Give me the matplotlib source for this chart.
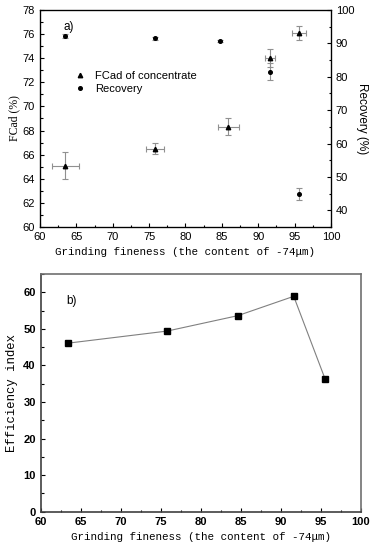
import matplotlib
matplotlib.use("Agg")
import matplotlib.pyplot as plt
from matplotlib.ticker import MultipleLocator

# Data
fcad_x = [63.5, 75.8, 85.9, 91.6, 95.6]
fcad_y = [65.1, 66.5, 68.3, 74.0, 76.1]
fcad_yerr = [1.1, 0.45, 0.7, 0.75, 0.6]
fcad_xerr = [1.8, 1.2, 1.5, 0.7, 0.9]

rec_x = [63.5, 75.8, 84.7, 91.6, 95.6]
rec_y = [92.3, 91.5, 90.8, 81.5, 45.0]
rec_yerr = [0.6, 0.5, 0.3, 2.5, 1.8]

eff_x = [63.45, 75.8, 84.6, 91.6, 95.5]
eff_y = [46.1, 49.4, 53.6, 58.9, 36.4]

xlabel = "Grinding fineness (the content of -74\u03bcm)"

fig = plt.figure(figsize=(3.73, 5.5), dpi=100)

sans = "Liberation Sans"
mono = "Liberation Mono"
serif = "Liberation Serif"

# ---- Top panel ----
ax1 = fig.add_axes([0.1072, 0.5873, 0.7802, 0.3945])
ax1.errorbar(fcad_x, fcad_y, yerr=fcad_yerr, xerr=fcad_xerr, fmt='none',
             ecolor='#909090', elinewidth=0.8, capsize=2, capthick=0.8)
ax1.plot(fcad_x, fcad_y, linestyle='none', marker='^', color='black',
         markersize=3.2, label='FCad of concentrate')
ax1.set_xlim(60, 100)
ax1.set_ylim(60, 78)
ax1.xaxis.set_major_locator(MultipleLocator(5))
ax1.xaxis.set_minor_locator(MultipleLocator(2.5))
ax1.yaxis.set_major_locator(MultipleLocator(2))
ax1.yaxis.set_minor_locator(MultipleLocator(1))
ax1.tick_params(axis='both', which='both', direction='in', labelsize=8)
ax1.tick_params(which='major', length=3, width=0.8)
ax1.tick_params(which='minor', length=1.8, width=0.8)
ax1.tick_params(axis='y', right=False)
for lab in ax1.get_xticklabels() + ax1.get_yticklabels():
    lab.set_fontfamily(sans)
ax1.set_xlabel(xlabel, fontfamily=mono, fontsize=7.8, labelpad=4)
ax1.set_ylabel("FCad (%)", fontfamily=serif, fontsize=8.5, labelpad=2)
for s in ax1.spines.values():
    s.set_linewidth(0.9)

ax2 = ax1.twinx()
ax2.errorbar(rec_x, rec_y, yerr=rec_yerr, fmt='none',
             ecolor='#909090', elinewidth=0.8, capsize=2, capthick=0.8)
ax2.plot(rec_x, rec_y, linestyle='none', marker='o', color='black',
         markersize=2.6, label='Recovery')
ax2.set_ylim(35, 100)
ax2.yaxis.set_major_locator(MultipleLocator(10))
ax2.yaxis.set_minor_locator(MultipleLocator(5))
ax2.tick_params(axis='y', which='both', direction='in', labelsize=8)
ax2.tick_params(which='major', length=3, width=0.8)
ax2.tick_params(which='minor', length=1.8, width=0.8)
for lab in ax2.get_yticklabels():
    lab.set_fontfamily(sans)
ax2.set_ylabel("Recovery (%)", fontfamily=sans, fontsize=8.5, rotation=270, labelpad=10)

h1, l1 = ax1.get_legend_handles_labels()
h2, l2 = ax2.get_legend_handles_labels()
leg = ax1.legend(h1 + h2, l1 + l2, loc='upper left', bbox_to_anchor=(0.08, 0.765),
                 frameon=False, prop={'family': sans, 'size': 8},
                 handlelength=1.2, handletextpad=0.8, labelspacing=0.25)
ax1.text(0.08, 0.95, "a)", transform=ax1.transAxes, fontfamily=sans,
         fontsize=8.5, va='top', ha='left')

# ---- Bottom panel ----
ax3 = fig.add_axes([0.109, 0.0696, 0.8588, 0.4322])
ax3.plot(eff_x, eff_y, color='#808080', linewidth=0.8, marker='s',
         markersize=4.2, markerfacecolor='black', markeredgecolor='black')
ax3.set_xlim(60, 100)
ax3.set_ylim(0, 65)
ax3.xaxis.set_major_locator(MultipleLocator(5))
ax3.xaxis.set_minor_locator(MultipleLocator(2.5))
ax3.yaxis.set_major_locator(MultipleLocator(10))
ax3.yaxis.set_minor_locator(MultipleLocator(5))
ax3.tick_params(axis='both', which='both', direction='in', labelsize=8)
ax3.tick_params(which='major', length=3, width=0.8)
ax3.tick_params(which='minor', length=1.8, width=0.8)
for lab in ax3.get_xticklabels() + ax3.get_yticklabels():
    lab.set_fontfamily(sans)
    lab.set_fontweight('bold')
ax3.set_xlabel(xlabel, fontfamily=mono, fontsize=7.8, labelpad=4)
ax3.set_ylabel("Efficiency index", fontfamily=mono, fontsize=8.8, labelpad=4)
for name, s in ax3.spines.items():
    s.set_linewidth(1.2)
    s.set_color('#404040' if name in ('left', 'bottom') else '#707070')
ax3.text(0.08, 0.91, "b)", transform=ax3.transAxes, fontfamily=sans,
         fontsize=8.5, va='top', ha='left')

fig.savefig("out.png", dpi=100)
